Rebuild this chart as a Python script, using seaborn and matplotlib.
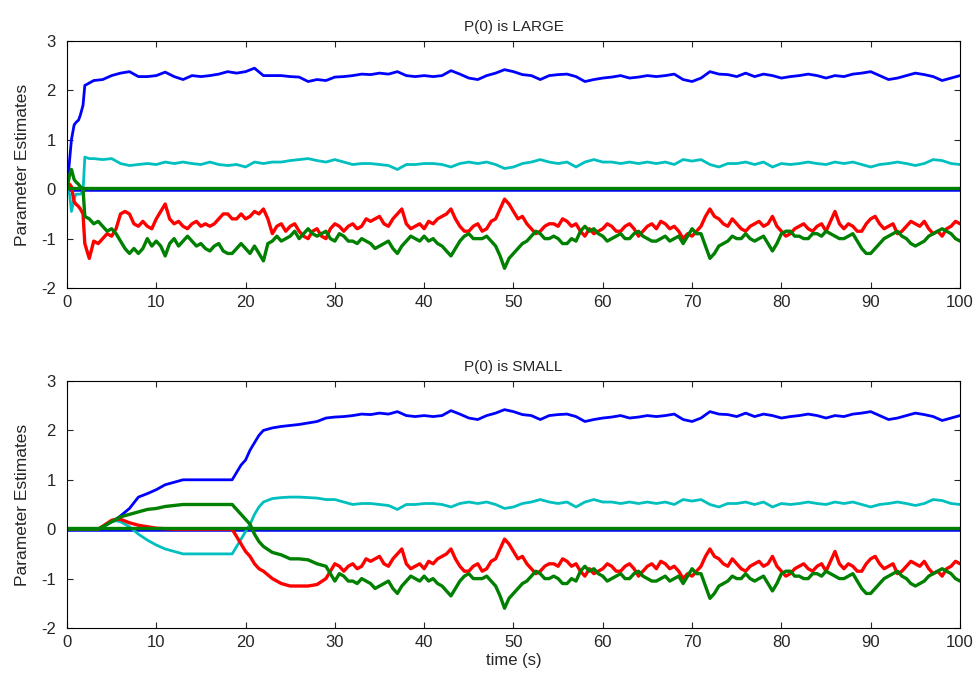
import numpy as np
import pandas as pd
import matplotlib
matplotlib.use("Agg")
import matplotlib.pyplot as plt
import seaborn as sns

# ---------------- data ----------------
t_early = [0, 0.3, 0.5, 0.8, 1.0, 1.3, 1.5, 1.8, 2.0, 2.5]
t_main = list(range(3, 101))
t_half = [x + 0.5 for x in range(3, 100)]

blue_early = [0, 0.6, 1.0, 1.3, 1.35, 1.4, 1.5, 1.7, 2.1, 2.15]
cyan_early = [0, -0.1, -0.45, -0.2, -0.1, -0.1, -0.1, -0.05, 0.65, 0.62]
red_early = [0, 0.1, 0.05, -0.25, -0.3, -0.35, -0.4, -0.5, -1.1, -1.4]
green_early = [0, 0.3, 0.4, 0.2, 0.15, 0.1, 0.05, 0.0, -0.55, -0.6]

blue_main = [2.2, 2.22, 2.3, 2.35, 2.38, 2.28, 2.28, 2.3, 2.37, 2.28,
             2.22, 2.3, 2.28, 2.3, 2.33, 2.38, 2.35, 2.38, 2.45, 2.3,
             2.3, 2.3, 2.28, 2.27, 2.18, 2.22, 2.2, 2.27, 2.28, 2.3,
             2.33, 2.32, 2.35, 2.33, 2.38, 2.3, 2.28, 2.3, 2.28, 2.3,
             2.4, 2.33, 2.25, 2.22, 2.3, 2.35, 2.42, 2.38, 2.32, 2.3,
             2.22, 2.3, 2.32, 2.33, 2.28, 2.18, 2.22, 2.25, 2.27, 2.3,
             2.25, 2.27, 2.3, 2.28, 2.3, 2.33, 2.22, 2.18, 2.25, 2.38,
             2.33, 2.32, 2.28, 2.35, 2.28, 2.33, 2.3, 2.25, 2.28, 2.3,
             2.33, 2.3, 2.25, 2.3, 2.28, 2.33, 2.35, 2.38, 2.3, 2.22,
             2.25, 2.3, 2.35, 2.32, 2.28, 2.2, 2.25, 2.3]
cyan_main = [0.62, 0.6, 0.62, 0.52, 0.48, 0.5, 0.52, 0.5, 0.55, 0.52,
             0.55, 0.52, 0.5, 0.55, 0.5, 0.48, 0.5, 0.45, 0.55, 0.52,
             0.55, 0.55, 0.58, 0.6, 0.62, 0.58, 0.55, 0.6, 0.55, 0.5,
             0.52, 0.52, 0.5, 0.48, 0.4, 0.5, 0.5, 0.52, 0.52, 0.5,
             0.45, 0.52, 0.55, 0.52, 0.55, 0.5, 0.42, 0.45, 0.52, 0.55,
             0.6, 0.55, 0.52, 0.55, 0.45, 0.55, 0.6, 0.55, 0.55, 0.52,
             0.55, 0.52, 0.55, 0.52, 0.55, 0.5, 0.6, 0.57, 0.6, 0.5,
             0.45, 0.52, 0.52, 0.55, 0.5, 0.55, 0.45, 0.52, 0.5, 0.52,
             0.55, 0.52, 0.5, 0.55, 0.52, 0.55, 0.5, 0.45, 0.5, 0.52,
             0.55, 0.52, 0.48, 0.52, 0.6, 0.58, 0.52, 0.5]
red_main = [-1.05, -1.0, -0.95, -0.5, -0.5, -0.75, -0.75, -0.6, -0.3, -0.7,
            -0.75, -0.7, -0.75, -0.75, -0.6, -0.5, -0.6, -0.6, -0.45, -0.4,
            -0.9, -0.7, -0.75, -0.85, -1.0, -0.8, -1.0, -0.7, -0.85, -0.7,
            -0.75, -0.65, -0.55, -0.75, -0.5, -0.7, -0.75, -0.8, -0.7, -0.55,
            -0.4, -0.75, -0.85, -0.7, -0.8, -0.6, -0.2, -0.45, -0.55, -0.8,
            -0.85, -0.7, -0.75, -0.65, -0.7, -0.95, -0.9, -0.8, -0.75, -0.85,
            -0.7, -0.95, -0.75, -0.8, -0.7, -0.75, -1.0, -0.95, -0.75, -0.4,
            -0.6, -0.75, -0.7, -0.85, -0.7, -0.75, -0.55, -0.85, -0.9, -0.75,
            -0.8, -0.75, -0.85, -0.45, -0.8, -0.75, -0.85, -0.6, -0.7, -0.75,
            -0.9, -0.75, -0.7, -0.65, -0.9, -0.95, -0.75, -0.7]
green_main = [-0.7, -0.75, -0.8, -1.05, -1.3, -1.3, -1.0, -1.05, -1.35, -1.0,
              -1.05, -1.05, -1.1, -1.25, -1.1, -1.3, -1.2, -1.2, -1.15, -1.45,
              -1.05, -1.05, -0.95, -1.0, -0.8, -0.95, -0.85, -1.05, -0.95, -1.05,
              -1.0, -1.1, -1.15, -1.05, -1.3, -1.05, -1.0, -0.95, -1.0, -1.15,
              -1.35, -1.05, -0.9, -1.0, -0.95, -1.15, -1.6, -1.3, -1.1, -0.95,
              -0.9, -1.0, -1.0, -1.1, -1.05, -0.75, -0.8, -0.95, -1.0, -0.9,
              -1.0, -0.85, -1.0, -1.05, -0.95, -1.0, -1.1, -0.8, -0.9, -1.4,
              -1.15, -1.05, -1.0, -0.9, -1.05, -0.95, -1.25, -0.9, -0.85, -0.95,
              -1.0, -0.9, -0.85, -0.95, -1.0, -0.9, -1.2, -1.3, -1.1, -0.95,
              -0.85, -1.0, -1.15, -1.05, -0.9, -0.8, -0.9, -1.05]
red_half = [-1.1, -0.9, -0.8, -0.45, -0.7, -0.65, -0.8, -0.45, -0.6, -0.65,
            -0.8, -0.65, -0.7, -0.7, -0.5, -0.6, -0.5, -0.55, -0.5, -0.6,
            -0.75, -0.85, -0.7, -0.95, -0.85, -0.95, -0.8, -0.75, -0.75, -0.8,
            -0.6, -0.6, -0.7, -0.6, -0.4, -0.8, -0.7, -0.65, -0.6, -0.5,
            -0.6, -0.85, -0.75, -0.85, -0.65, -0.4, -0.3, -0.6, -0.7, -0.9,
            -0.75, -0.7, -0.6, -0.75, -0.85, -0.8, -0.85, -0.7, -0.85, -0.75,
            -0.8, -0.85, -0.7, -0.65, -0.8, -0.85, -0.9, -0.85, -0.55, -0.55,
            -0.7, -0.6, -0.8, -0.75, -0.65, -0.7, -0.75, -0.95, -0.8, -0.7,
            -0.85, -0.7, -0.65, -0.7, -0.7, -0.85, -0.7, -0.55, -0.8, -0.7,
            -0.85, -0.65, -0.75, -0.8, -0.85, -0.8, -0.65]
green_half = [-0.65, -0.85, -0.9, -1.2, -1.2, -1.2, -1.15, -1.15, -1.1, -1.15,
              -0.95, -1.15, -1.2, -1.15, -1.25, -1.3, -1.1, -1.3, -1.3, -1.1,
              -0.95, -1.0, -0.85, -0.9, -0.9, -0.9, -1.0, -0.9, -1.05, -1.1,
              -1.05, -1.2, -1.1, -1.2, -1.15, -0.95, -1.05, -1.05, -1.1, -1.25,
              -1.2, -0.95, -1.0, -1.0, -1.05, -1.35, -1.4, -1.2, -1.05, -0.85,
              -1.0, -0.95, -1.1, -1.0, -0.85, -0.85, -0.9, -1.05, -0.95, -1.0,
              -0.9, -0.95, -1.05, -1.0, -1.05, -0.95, -0.95, -0.9, -1.15, -1.3,
              -1.1, -0.95, -1.0, -1.0, -1.0, -1.1, -1.1, -0.85, -0.95, -1.0,
              -0.9, -0.95, -0.9, -1.0, -0.95, -1.05, -1.3, -1.2, -1.0, -0.9,
              -0.95, -1.1, -1.1, -0.95, -0.85, -0.85, -1.0]

# bottom panel: slow start with small P(0), then same behaviour from t = 30 s
t_slow = [0, 3.5, 4.5, 5, 5.5, 6, 7, 8, 9, 10, 11, 12, 13, 18.5, 19, 19.5,
          20, 20.5, 21, 21.5, 22, 23, 24, 25, 26, 27, 28, 29]
blue_slow = [0, 0, 0.1, 0.15, 0.2, 0.27, 0.42, 0.65, 0.72, 0.8, 0.9, 0.95, 1.0,
             1.0, 1.15, 1.3, 1.4, 1.6, 1.75, 1.9, 2.0, 2.05, 2.08, 2.1, 2.12,
             2.15, 2.18, 2.25]
green_slow = [0, 0, 0.1, 0.15, 0.2, 0.25, 0.3, 0.35, 0.4, 0.42, 0.46, 0.48, 0.5,
              0.5, 0.4, 0.3, 0.2, 0.1, -0.1, -0.25, -0.35, -0.47, -0.52, -0.6,
              -0.6, -0.62, -0.7, -0.75]
cyan_slow = [0, 0, 0.1, 0.15, 0.17, 0.15, 0.05, -0.1, -0.22, -0.32, -0.4, -0.45,
             -0.5, -0.5, -0.35, -0.2, -0.05, 0.1, 0.3, 0.45, 0.55, 0.62, 0.64,
             0.65, 0.65, 0.64, 0.63, 0.6]
red_slow = [0, 0, 0.12, 0.18, 0.2, 0.2, 0.13, 0.08, 0.05, 0.02, 0.01, 0, 0, 0,
            -0.15, -0.3, -0.45, -0.55, -0.7, -0.8, -0.85, -1.0, -1.1, -1.15,
            -1.15, -1.15, -1.12, -1.0]

titles = ["P(0) is LARGE", "P(0) is SMALL"]
x_ticks = [0, 10, 20, 30, 40, 50, 60, 70, 80, 90, 100]
y_ticks = [-2, -1, 0, 1, 2, 3]

colors = {"blue": (0, 0, 1), "cyan": (0, 0.75, 0.75),
          "red": (1, 0, 0), "green": (0, 0.5, 0)}
widths = {"blue": 2.0, "cyan": 2.0, "red": 2.4, "green": 2.4}

# ---------------- build tables ----------------
def series(t_a, v_a, t_b=None, v_b=None):
    d = pd.DataFrame({"t": list(t_a), "v": list(v_a)})
    if t_b is not None:
        d = pd.concat([d, pd.DataFrame({"t": list(t_b), "v": list(v_b)})])
    return d.sort_values("t").reset_index(drop=True)

top = {
    "blue": series(t_early + t_main, blue_early + blue_main),
    "cyan": series(t_early + t_main, cyan_early + cyan_main),
    "red": series(t_early + t_main, red_early + red_main, t_half, red_half),
    "green": series(t_early + t_main, green_early + green_main, t_half, green_half),
}
bot = {}
bot["blue"] = pd.concat([series(t_slow, blue_slow), top["blue"][top["blue"].t >= 30]])
bot["cyan"] = pd.concat([series(t_slow, cyan_slow), top["cyan"][top["cyan"].t >= 30]])
bot["red"] = pd.concat([series(t_slow, red_slow), top["red"][top["red"].t >= 30]])
bot["green"] = pd.concat([series(t_slow, green_slow), top["green"][top["green"].t >= 30]])

sns.set_style("ticks")
plt.rcParams["font.family"] = ["Liberation Sans", "DejaVu Sans"]
plt.rcParams["axes.unicode_minus"] = False

fig = plt.figure(figsize=(9.76, 6.79), dpi=100)
ax1 = fig.add_axes([0.0686, 0.5758, 0.915, 0.3638])
ax2 = fig.add_axes([0.0686, 0.0751, 0.915, 0.3638])

zero_x = [0, 100]
for ax, data, title in [(ax1, top, titles[0]), (ax2, bot, titles[1])]:
    sns.lineplot(x=zero_x, y=[-0.02, -0.02], color=colors["blue"], lw=1.8, ax=ax)
    for name in ["blue", "cyan", "red", "green"]:
        sns.lineplot(data=data[name], x="t", y="v", color=colors[name],
                     lw=widths[name], estimator=None, sort=False, ax=ax)
    sns.lineplot(x=zero_x, y=[0.02, 0.02], color=colors["green"], lw=2.4, ax=ax)
    ax.set_xlim(0, 100)
    ax.set_ylim(-2, 3)
    ax.set_xticks(x_ticks)
    ax.set_yticks(y_ticks)
    ax.set_title(title, fontsize=11, pad=7)
    ax.set_ylabel("Parameter Estimates", fontsize=12.5, labelpad=8)
    ax.set_xlabel("")
    ax.tick_params(axis="y", pad=8)
    ax.tick_params(axis="x", pad=5)
    ax.tick_params(direction="in", top=True, right=True, labelsize=12,
                   length=4, width=0.8)
    for s in ax.spines.values():
        s.set_visible(True)
        s.set_linewidth(0.8)
        s.set_color("black")

ax2.set_xlabel("time (s)", fontsize=12, labelpad=2)

fig.savefig("out.png", dpi=100)
